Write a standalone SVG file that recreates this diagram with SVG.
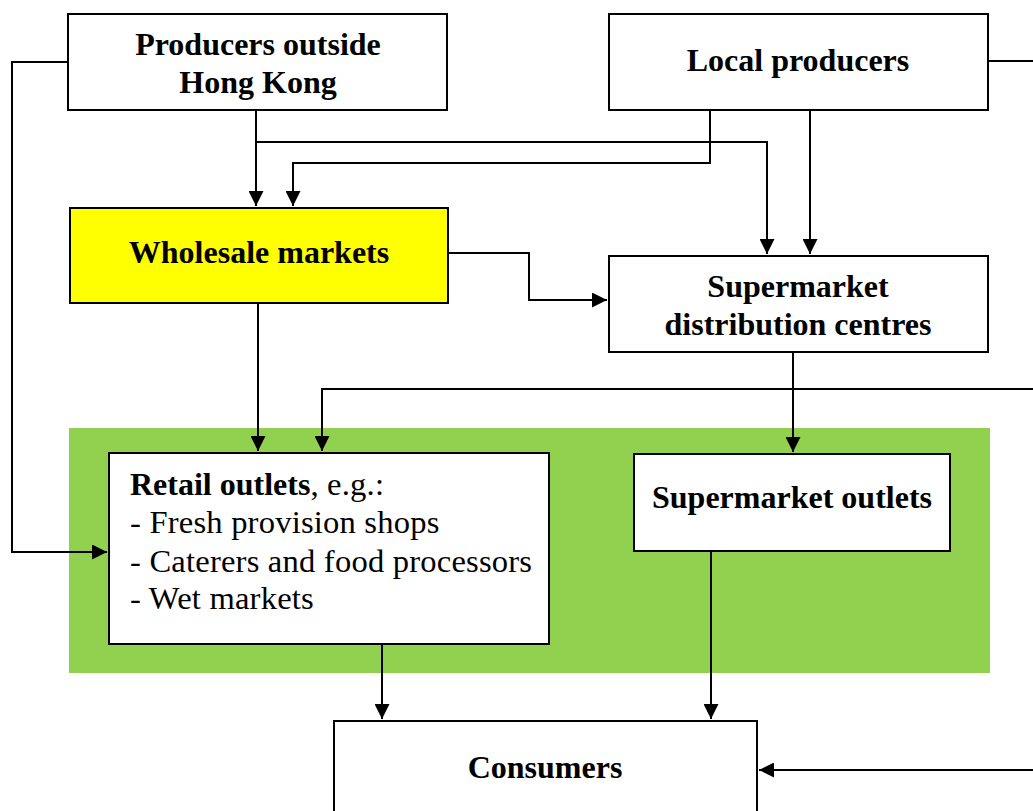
<svg xmlns="http://www.w3.org/2000/svg" width="1033" height="811" viewBox="0 0 1033 811">
<style>
.box{fill:#fff;stroke:#000;stroke-width:2}
.t{font-family:"Liberation Serif","Times New Roman",serif;font-size:32px;fill:#000}
.r{font-size:32.6px;letter-spacing:0.2px}
.b{font-weight:bold}
.c{text-anchor:middle}
.ln{fill:none;stroke:#000;stroke-width:2}
</style>
<defs>
<marker id="ah" markerUnits="userSpaceOnUse" markerWidth="15" markerHeight="15" refX="15" refY="7.5" orient="auto">
<path d="M0,0 L15,7.5 L0,15 z" fill="#000"/>
</marker>
</defs>
<rect width="1033" height="811" fill="#fff"/>
<rect id="green-area" x="69" y="428" width="921" height="245" fill="#92D050"/>
<g id="connectors" class="ln" marker-end="url(#ah)">
<path d="M68,62 H12 V552 H107"/>
<path d="M256,110 V206"/>
<path d="M256,142 H767 V254"/>
<path d="M710,110 V163 H293 V206"/>
<path d="M810,110 V254"/>
<path d="M448,253 H529 V300 H607"/>
<path d="M258,303 V451"/>
<path d="M1033,389 H322 V451"/>
<path d="M793,352 V452"/>
<path d="M382,644 V719"/>
<path d="M711,551 V719"/>
<path d="M1033,770 H759"/>
<path d="M988,61 H1033" marker-end="none"/>
</g>
<g id="producers-outside">
<rect class="box" x="68" y="14" width="379" height="96"/>
<text class="t b c" x="258" y="55">Producers outside</text>
<text class="t b c" x="258" y="93">Hong Kong</text>
</g>
<g id="local-producers">
<rect class="box" x="609" y="14" width="379" height="96"/>
<text class="t b c" x="798" y="71">Local producers</text>
</g>
<g id="wholesale-markets">
<rect class="box" x="70" y="208" width="378" height="95" style="fill:#FFFF00"/>
<text class="t b c" x="259" y="263">Wholesale markets</text>
</g>
<g id="supermarket-distribution">
<rect class="box" x="609" y="256" width="379" height="96"/>
<text class="t b c" x="798" y="297">Supermarket</text>
<text class="t b c" x="798" y="335">distribution centres</text>
</g>
<g id="retail-outlets">
<rect class="box" x="109" y="453" width="440" height="191"/>
<text class="t" x="130" y="495"><tspan class="b">Retail outlets</tspan><tspan class="r">, e.g.:</tspan></text>
<text class="t r" x="130" y="533">- Fresh provision shops</text>
<text class="t r" x="130" y="572">- Caterers and food processors</text>
<text class="t r" x="130" y="609">- Wet markets</text>
</g>
<g id="supermarket-outlets">
<rect class="box" x="634" y="454" width="316" height="97"/>
<text class="t b c" x="792" y="508">Supermarket outlets</text>
</g>
<g id="consumers">
<rect class="box" x="334" y="721" width="423" height="100"/>
<text class="t b c" x="545" y="778">Consumers</text>
</g>
</svg>
